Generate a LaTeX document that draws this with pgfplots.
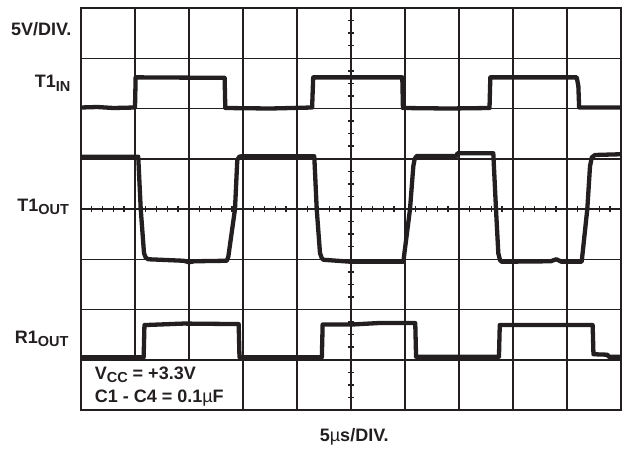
\documentclass[border=0pt]{standalone}
\usepackage{fontspec}
\setmainfont{Liberation Sans}
\usepackage{pgfplots}
\pgfplotsset{compat=1.18}
\definecolor{scope}{HTML}{231F20}
\newcommand{\sub}[1]{\raisebox{-3.5pt}{\fontsize{14.5}{14.5}\selectfont #1}}
\tikzset{trace/.style={color=scope, line width=4.3pt, line join=round, no markers},
  lbl/.style={font=\fontsize{18}{18}\selectfont\bfseries, color=scope}}
\begin{document}
\begin{tikzpicture}
\begin{axis}[
  name=ax, scale only axis, width=540pt, height=402pt,
  xmin=0, xmax=10, ymin=0, ymax=8,
  xtick={0,1,...,10}, ytick={0,1,...,8},
  xticklabels={}, yticklabels={},
  major tick length=0pt,
  grid=major,
  major grid style={line width=1.5pt, color=scope},
  axis line style={line width=1.8pt, color=scope},
  clip=false,
]
\coordinate (O) at (axis cs:0,0);
% center graticule ticks
\pgfplotsinvokeforeach{0.2,0.4,...,9.9}{\draw[line width=1.4pt,scope] (axis cs:#1,4) ++(0,-3pt) -- ++(0,6pt);}
\pgfplotsinvokeforeach{0.25,0.5,...,7.9}{\draw[line width=1.4pt,scope] (axis cs:5,#1) ++(-3pt,0) -- ++(6pt,0);}
% white box for the conditions text
\fill[white] ([shift={(1pt,1pt)}]axis cs:0,0) rectangle ([shift={(-0.9pt,-0.9pt)}]axis cs:3,1);
% T1 IN
\addplot[trace] coordinates {(0,6.02) (0.3,6.03) (0.6,6.01) (1.0,6.02) (1.012,6.62) (2.66,6.61) (2.672,6.01) (3.5,6.00) (4.28,6.02) (4.30,6.62) (5.95,6.62) (5.962,6.01) (6.8,6.00) (7.565,6.01) (7.58,6.62) (9.18,6.62) (9.21,6.45) (9.225,6.02) (10,6.02)};
% T1 OUT
\addplot[trace] coordinates {(0,5.04) (1.06,5.04) (1.106,4.0) (1.167,3.12) (1.20,3.03) (1.246,3.0) (1.9,2.97) (2.0,2.94) (2.1,2.96) (2.70,2.97) (2.728,3.05) (2.852,4.0) (2.894,4.975) (2.93,5.04) (2.976,5.05) (4.32,5.05) (4.365,4.0) (4.426,3.12) (4.46,3.02) (4.487,2.99) (5.0,2.95) (5.969,2.95) (6.093,4.0) (6.154,4.85) (6.18,5.0) (6.217,5.055) (6.96,5.055) (6.97,5.11) (7.635,5.11) (7.685,4.0) (7.728,3.12) (7.76,2.98) (7.791,2.95) (8.7,2.96) (8.8,3.0) (8.9,2.95) (9.272,2.95) (9.376,4.0) (9.426,4.85) (9.46,5.03) (9.519,5.075) (10,5.09)};
% R1 OUT
\addplot[trace] coordinates {(0,1.05) (1.16,1.05) (1.175,1.69) (1.9,1.72) (2.92,1.71) (2.935,1.05) (4.46,1.05) (4.475,1.70) (5.0,1.70) (5.5,1.73) (6.19,1.73) (6.205,1.06) (7.74,1.06) (7.755,1.69) (9.475,1.69) (9.49,1.11) (9.75,1.10) (9.77,1.06) (10,1.06)};
% labels
\node[lbl, anchor=base east] at ([xshift=-6pt]axis cs:0,7.45) {5V/DIV.};
\node[lbl, anchor=base east] at ([xshift=-7pt]axis cs:0,6.41) {T1\sub{IN}};
\node[lbl, anchor=base east] at ([xshift=-8.5pt]axis cs:0,3.96) {T1\sub{OUT}};
\node[lbl, anchor=base east] at ([xshift=-9pt]axis cs:0,1.327) {R1\sub{OUT}};
\node[lbl, anchor=base west] at (axis cs:0.19,0.61) {V\sub{CC} = +3.3V};
\node[lbl, anchor=base west] at (axis cs:0.19,0.145) {C1 - C4 = 0.1{\mdseries µ}F};
\node[lbl, anchor=base] at (axis cs:5.06,-0.63) {5{\mdseries µ}s/DIV.};
\end{axis}
\pgfresetboundingbox
\path[use as bounding box] (O) ++(-81pt,-38pt) rectangle ++(627pt,448pt);
\end{tikzpicture}
\end{document}
